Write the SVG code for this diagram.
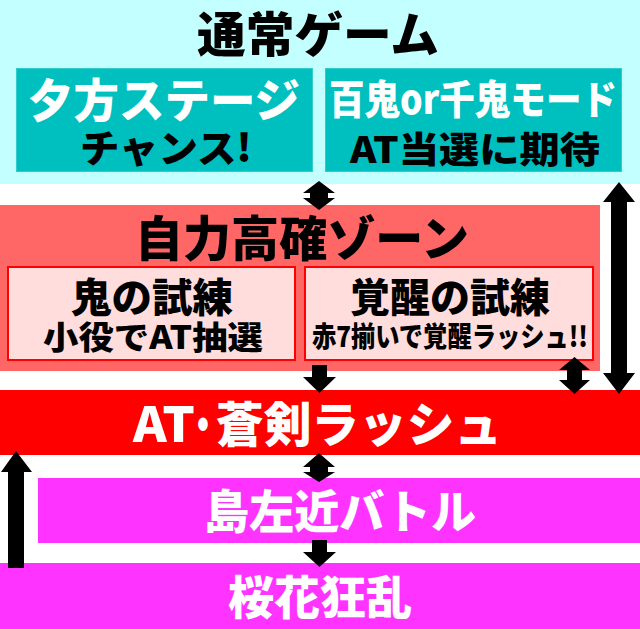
<svg xmlns="http://www.w3.org/2000/svg" width="640" height="629" viewBox="0 0 640 629">
<style>
text{font-family:"Noto Sans CJK JP","Noto Sans",sans-serif;font-weight:900;text-anchor:middle;dominant-baseline:central;}
.w{fill:#FFFFFF;}
.k{fill:#000000;}
.s{text-anchor:start;}
.teal{fill:#00BFBF;stroke:#33CCCC;stroke-width:1;}
.pink{fill:#FFDDDD;stroke:#FF0000;stroke-width:2;}
.mag{fill:#FF33FF;}
.arr{fill:#000000;}
</style>
<rect x="0" y="0" width="640" height="629" fill="#FFFFFF"/>
<g id="normal-game">
<rect x="0" y="0" width="640" height="184" fill="#C4FFFF"/>
<text class="k" x="318" y="31" font-size="48" textLength="242" lengthAdjust="spacingAndGlyphs">通常ゲーム</text>
</g>
<g id="yugata-stage">
<rect class="teal" x="16.5" y="68.5" width="296" height="103"/>
<text class="w" x="164" y="97" font-size="46" textLength="272" lengthAdjust="spacingAndGlyphs">夕方ステージ</text>
<text class="k" x="166" y="145" font-size="38" textLength="172" lengthAdjust="spacingAndGlyphs">チャンス!</text>
</g>
<g id="hyakki-mode">
<rect class="teal" x="325.5" y="68.5" width="296" height="103"/>
<text class="w" x="473" y="97" font-size="40" textLength="288" lengthAdjust="spacingAndGlyphs">百鬼or千鬼モード</text>
<text class="k" x="475" y="147" font-size="36" textLength="250" lengthAdjust="spacingAndGlyphs">AT当選に期待</text>
</g>
<g id="jiriki-zone">
<rect x="0" y="205" width="600" height="166" fill="#FF6666"/>
<text class="k" x="302" y="235" font-size="48" textLength="334" lengthAdjust="spacingAndGlyphs">自力高確ゾーン</text>
</g>
<g id="oni-shiren">
<rect class="pink" x="8" y="267" width="287" height="93"/>
<text class="k" x="152" y="295" font-size="40" textLength="162" lengthAdjust="spacingAndGlyphs">鬼の試練</text>
<text class="k" x="153" y="335" font-size="32" textLength="220" lengthAdjust="spacingAndGlyphs">小役でAT抽選</text>
</g>
<g id="kakusei-shiren">
<rect class="pink" x="305" y="267" width="288" height="93"/>
<text class="k" x="450" y="295" font-size="40" textLength="200" lengthAdjust="spacingAndGlyphs">覚醒の試練</text>
<text class="k" x="450" y="335" font-size="28" textLength="276" lengthAdjust="spacingAndGlyphs">赤7揃いで覚醒ラッシュ!!</text>
</g>
<g id="at-soken-rush">
<rect x="0" y="390" width="640" height="65" fill="#FF0000"/>
<text class="w s" x="133" y="421" font-size="48"><tspan textLength="62" lengthAdjust="spacingAndGlyphs">AT</tspan><tspan x="186" textLength="34" lengthAdjust="spacingAndGlyphs">・</tspan><tspan x="216" textLength="286" lengthAdjust="spacingAndGlyphs">蒼剣ラッシュ</tspan></text>
</g>
<g id="shima-sakon-battle">
<rect class="mag" x="38" y="478" width="602" height="65"/>
<text class="w" x="340" y="508" font-size="46" textLength="272" lengthAdjust="spacingAndGlyphs">島左近バトル</text>
</g>
<g id="ouka-kyouran">
<rect class="mag" x="0" y="563" width="640" height="66"/>
<text class="w" x="320" y="594" font-size="46" textLength="184" lengthAdjust="spacingAndGlyphs">桜花狂乱</text>
</g>
<g id="connectors">
<polygon class="arr" points="319,181 335,193 328,193 328,198 335,198 319,210 303,198 310,198 310,193 303,193"/>
<polygon class="arr" points="312,365 327,365 327,377 336,377 319.5,393 303,377 312,377"/>
<polygon class="arr" points="574.5,357 590,370 582,370 582,380 590,380 574.5,394 559,380 567,380 567,370 559,370"/>
<polygon class="arr" points="619,182 635,202 627,202 627,373 635,373 619,394 603,373 611,373 611,202 603,202"/>
<polygon class="arr" points="319,453 335,467 328,467 328,472 335,472 319,482 303,472 310,472 310,467 303,467"/>
<polygon class="arr" points="312,540 327,540 327,552 336,552 319.5,567 303,552 312,552"/>
<polygon class="arr" points="16,451 32,472 24,472 24,568 8,568 8,472 1,472"/>
</g>
</svg>
